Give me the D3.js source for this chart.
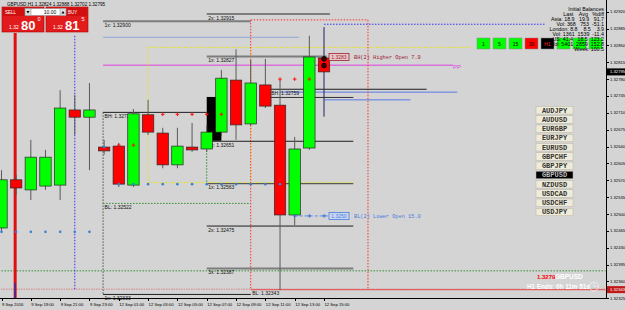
<!DOCTYPE html>
<html>
<head>
<meta charset="utf-8">
<script src="https://cdn.jsdelivr.net/npm/d3@7"></script>
<style>
body { margin: 0; background: #d4d4d4; }
svg { display: block; }
</style>
</head>
<body>
<script>
//Width and height
var w = 625;
var h = 310;
var plotRight = 606;
var plotBottom = 298;

// GBPUSD H1 bars, 9 Sep 17:00 .. 12 Sep 15:00
var barTimes = ["9 Sep 17:00", "9 Sep 18:00", "9 Sep 19:00", "9 Sep 20:00", "9 Sep 21:00", "9 Sep 22:00", "9 Sep 23:00",
                "12 Sep 00:00", "12 Sep 01:00", "12 Sep 02:00", "12 Sep 03:00", "12 Sep 04:00", "12 Sep 05:00", "12 Sep 06:00",
                "12 Sep 07:00", "12 Sep 08:00", "12 Sep 09:00", "12 Sep 10:00", "12 Sep 11:00", "12 Sep 12:00", "12 Sep 13:00",
                "12 Sep 14:00", "12 Sep 15:00"];
var opens  = [1.32471, 1.32571, 1.32550, 1.32558, 1.32560, 1.32716, 1.32701, 1.32639, 1.32641, 1.32560, 1.32706, 1.32668,
              1.32602, 1.32639, 1.32635, 1.32670, 1.32778, 1.32687, 1.32768, 1.32726, 1.32498, 1.32637, 1.32824];
var highs  = [1.32591, 1.32581, 1.32654, 1.32633, 1.32757, 1.32747, 1.32772, 1.32654, 1.32647, 1.32718, 1.32737, 1.32679,
              1.32679, 1.32689, 1.32685, 1.32799, 1.32842, 1.32820, 1.32822, 1.32778, 1.32660, 1.32870, 1.32888];
var lows   = [1.32461, 1.32539, 1.32529, 1.32550, 1.32529, 1.32664, 1.32591, 1.32623, 1.32556, 1.32556, 1.32664, 1.32595,
              1.32595, 1.32629, 1.32629, 1.32662, 1.32654, 1.32683, 1.32720, 1.32342, 1.32477, 1.32633, 1.32702];
var closes = [1.32571, 1.32554, 1.32618, 1.32618, 1.32720, 1.32701, 1.32716, 1.32631, 1.32562, 1.32708, 1.32670, 1.32602,
              1.32641, 1.32633, 1.32670, 1.32782, 1.32685, 1.32772, 1.32724, 1.32498, 1.32635, 1.32826, 1.32795];

var xTickBars   = [0, 2, 4, 6, 8, 10, 12, 14, 16, 18, 20, 22];
var xTickLabels = ["9 Sep 2016", "9 Sep 19:00", "9 Sep 21:00", "9 Sep 23:00", "12 Sep 01:00", "12 Sep 03:00",
                   "12 Sep 05:00", "12 Sep 07:00", "12 Sep 09:00", "12 Sep 11:00", "12 Sep 13:00", "12 Sep 15:00"];
var yTickValues = [1.32325, 1.32360, 1.32395, 1.32430, 1.32465, 1.32500, 1.32535, 1.32570, 1.32605, 1.32640,
                   1.32675, 1.32710, 1.32745, 1.32780, 1.32815, 1.32850, 1.32885, 1.32920];

// labelled range levels: price, first bar, last bar, text, kind
var levelPrices = [1.32915, 1.32900, 1.32827, 1.32711, 1.32759, 1.32651, 1.32563, 1.32522, 1.32475, 1.32387, 1.32343, 1.32333];
var levelFrom   = [14, 6.93, 14, 6.93, 18.3, 14, 14, 6.93, 14, 14, 17, 6.93];
var levelTo     = [22.4, 17, 22.2, 14, 29, 24, 24, 17, 24, 24, 41.2, 17];
var levelText   = ["2x: 1.32915", "1x: 1.32900", "1x: 1.32827", "BH: 1.32711", "BH: 1.32759", "1x: 1.32651",
                   "1x: 1.32563", "BL: 1.32522", "2x: 1.32475", "3x: 1.32387", "BL: 1.32343", "1x: 1.32333"];
var levelKind   = ["thick", "thick", "thick", "black", "black", "black", "gray", "greenDot", "black", "thick", "red", "black"];

// other horizontal lines
var hPrices = [1.32903, 1.32894, 1.32867, 1.32846, 1.32809, 1.32753, 1.32742, 1.32737, 1.32565, 1.32382, 1.32344];
var hFrom   = [17, 22, 6.93, 10, 6.93, 19, 18.3, 22, 10, -0.2, -0.2];
var hTo     = [25, 37.1, 20.3, 32, 30.8, 31.1, 24, 27.9, 24, 41.2, 41.2];
var hKind   = ["redDot", "blueDot", "lightBlue", "yellowDot", "magenta", "blue", "dark", "blue", "yellowDot", "greenDot", "pinkDot"];

// vertical lines: bar, top price, bottom price, kind
var vBars   = [5, 6.93, 10, 14, 17, 17, 25];
var vTop    = [1.32870, 1.32711, 1.32846, 1.32651, 1.32846, 1.32903, 1.32903];
var vBottom = [1.32344, 1.32333, 1.32565, 1.32563, 1.32565, 1.32344, 1.32344];
var vKind   = ["blueDot", "darkDot", "yellowDot", "greenDot", "yellowDot", "redDot", "redDot"];

// indicator markers
var redMarkBars   = [8, 9, 11, 12, 13, 14, 15, 19, 20, 21];
var redMarkPrices = [1.32643, 1.32643, 1.32707, 1.32707, 1.32707, 1.32707, 1.32707, 1.32780, 1.32780, 1.32780];
var blueMarkBars   = [0, 1, 2, 3, 4, 5, 6, 7, 8, 9, 10, 11, 12, 13, 14, 15, 16, 17, 18, 19];
var blueMarkPrices = [1.32463, 1.32463, 1.32463, 1.32463, 1.32463, 1.32463, 1.32463, 1.32639,
                      1.32562, 1.32562, 1.32562, 1.32562, 1.32562, 1.32562, 1.32562, 1.32562, 1.32562, 1.32562, 1.32562, 1.32562];
var lowerOpenBars = [20, 21, 22];
var lowerOpenPrice = 1.32496;
var higherOpenPrice = 1.32826;

var currencies = ["AUDJPY", "AUDUSD", "EURGBP", "EURJPY", "EURUSD", "GBPCHF", "GBPJPY", "GBPUSD", "NZDUSD", "USDCAD", "USDCHF", "USDJPY"];
var tfLabels = ["1", "5", "15", "30", "H1", "", "", ""];
var tfState  = ["up", "up", "up", "down", "cur", "up", "up", "up"];
var balanceRows = ["Initial Balances", "Last    Avg   %diff", "Asia: 18.9   19.9   91.7", "Vol: 368   753  -51.1",
                   "London: 8.8    8.5    3.9", "Vol: 1361  1539  -11.4", "US: 41.4   18.5  123.2",
                   "Vol: 5401  2859  152.8", "Week: 100.5"];

var xScale = d3.scaleLinear().domain([0, 22]).range([1.5, 324]);
var yScale = d3.scaleLinear().domain([1.32325, 1.32920]).range([298.3, 11.7]);
var half = 5.7;

var svg = d3.select("body").append("svg").attr("width", w).attr("height", h);
svg.append("rect").attr("width", w).attr("height", h).attr("fill", "#d4d4d4");

var lineStyle = {
	thick:     { stroke: "#7d7d7d", width: 2,   dash: null },
	black:     { stroke: "#1e1e1e", width: 1,   dash: null },
	gray:      { stroke: "#5a5a5a", width: 1.2, dash: null },
	red:       { stroke: "#e06060", width: 1.2, dash: null },
	greenDot:  { stroke: "#2e8b2e", width: 1,   dash: "1.5,1.5" },
	redDot:    { stroke: "#ff3030", width: 1,   dash: "1.5,1.5" },
	blueDot:   { stroke: "#3030ff", width: 1,   dash: "1.5,1.5" },
	yellowDot: { stroke: "#e8e800", width: 1,   dash: "1.5,1.5" },
	pinkDot:   { stroke: "#d88080", width: 1,   dash: "1.5,1" },
	darkDot:   { stroke: "#3a5a3a", width: 1,   dash: "1.5,1.5" },
	lightBlue: { stroke: "#8fa8d8", width: 1.2, dash: null },
	magenta:   { stroke: "#e040e0", width: 1,   dash: null },
	blue:      { stroke: "#5a78e8", width: 1,   dash: null },
	dark:      { stroke: "#303030", width: 1,   dash: null }
};

// black box between 07:00 and 08:00
svg.append("rect")
	.attr("x", xScale(14)).attr("y", yScale(1.32743))
	.attr("width", xScale(15) - xScale(14))
	.attr("height", yScale(1.32652) - yScale(1.32743))
	.attr("fill", "#000");

// horizontal lines
svg.selectAll("line.h")
	.data(hPrices)
	.enter()
	.append("line")
	.attr("class", "h")
	.attr("x1", function(d, i) { return xScale(hFrom[i]); })
	.attr("x2", function(d, i) { return Math.min(xScale(hTo[i]), plotRight); })
	.attr("y1", function(d) { return yScale(d); })
	.attr("y2", function(d) { return yScale(d); })
	.attr("stroke", function(d, i) { return lineStyle[hKind[i]].stroke; })
	.attr("stroke-width", function(d, i) { return lineStyle[hKind[i]].width; })
	.attr("stroke-dasharray", function(d, i) { return lineStyle[hKind[i]].dash; });

// vertical lines
svg.selectAll("line.v")
	.data(vBars)
	.enter()
	.append("line")
	.attr("class", "v")
	.attr("x1", function(d) { return xScale(d); })
	.attr("x2", function(d) { return xScale(d); })
	.attr("y1", function(d, i) { return yScale(vTop[i]); })
	.attr("y2", function(d, i) { return yScale(vBottom[i]); })
	.attr("stroke", function(d, i) { return lineStyle[vKind[i]].stroke; })
	.attr("stroke-width", function(d, i) { return lineStyle[vKind[i]].width; })
	.attr("stroke-dasharray", function(d, i) { return lineStyle[vKind[i]].dash; });

// session line
svg.append("line")
	.attr("x1", xScale(1) - 1).attr("x2", xScale(1) - 1)
	.attr("y1", 33).attr("y2", plotBottom)
	.attr("stroke", "#e01010").attr("stroke-width", 3);
svg.append("line")
	.attr("x1", xScale(1) - 1).attr("x2", xScale(1) - 1)
	.attr("y1", 283).attr("y2", plotBottom)
	.attr("stroke", "#3030a0").attr("stroke-width", 1.5);

// level lines + labels
svg.selectAll("line.lvl")
	.data(levelPrices)
	.enter()
	.append("line")
	.attr("class", "lvl")
	.attr("x1", function(d, i) { return xScale(levelFrom[i]); })
	.attr("x2", function(d, i) { return Math.min(xScale(levelTo[i]), plotRight); })
	.attr("y1", function(d) { return yScale(d); })
	.attr("y2", function(d) { return yScale(d); })
	.attr("stroke", function(d, i) { return lineStyle[levelKind[i]].stroke; })
	.attr("stroke-width", function(d, i) { return lineStyle[levelKind[i]].width; })
	.attr("stroke-dasharray", function(d, i) { return lineStyle[levelKind[i]].dash; });

svg.selectAll("text.lvl")
	.data(levelPrices)
	.enter()
	.append("text")
	.attr("class", "lvl")
	.text(function(d, i) { return levelText[i]; })
	.attr("x", function(d, i) { return xScale(levelFrom[i]) + 1.5; })
	.attr("y", function(d) { return yScale(d) + 5.5; })
	.attr("font-family", "Liberation Sans, Arial, sans-serif")
	.attr("font-size", "5px")
	.attr("fill", "#111");

svg.append("text").text("PP")
	.attr("x", xScale(30.8)).attr("y", yScale(1.32809) + 4)
	.attr("font-family", "Liberation Sans, sans-serif").attr("font-size", "6px")
	.attr("fill", "#e040e0");

// candles: wicks then bodies
svg.selectAll("line.wick")
	.data(opens)
	.enter()
	.append("line")
	.attr("class", "wick")
	.attr("x1", function(d, i) { return xScale(i); })
	.attr("x2", function(d, i) { return xScale(i); })
	.attr("y1", function(d, i) { return yScale(highs[i]); })
	.attr("y2", function(d, i) { return yScale(lows[i]); })
	.attr("stroke", function(d, i) { return i == 22 ? "#202060" : "#5a5a5a"; })
	.attr("stroke-width", 1);

svg.selectAll("rect.body")
	.data(opens)
	.enter()
	.append("rect")
	.attr("class", "body")
	.attr("x", function(d, i) { return xScale(i) - half; })
	.attr("y", function(d, i) { return yScale(Math.max(d, closes[i])); })
	.attr("width", half * 2)
	.attr("height", function(d, i) { return Math.max(1.5, Math.abs(yScale(d) - yScale(closes[i]))); })
	.attr("fill", function(d, i) { return closes[i] >= d ? "#00ff00" : "#ff0000"; })
	.attr("stroke", "#2a2a2a")
	.attr("stroke-width", 0.7);

// current bar dots
svg.selectAll("circle.cur")
	.data([1.32822, 1.32808])
	.enter()
	.append("circle")
	.attr("cx", xScale(22)).attr("cy", function(d) { return yScale(d); })
	.attr("r", 2.3).attr("fill", "#400000").attr("stroke", "#000");

// markers
svg.selectAll("g.redMark")
	.data(redMarkBars)
	.enter()
	.append("path")
	.attr("d", function(d, i) {
		var cx = xScale(d), cy = yScale(redMarkPrices[i]);
		return "M" + (cx - 1.8) + "," + cy + "H" + (cx + 1.8) + "M" + cx + "," + (cy - 1.8) + "V" + (cy + 1.8);
	})
	.attr("stroke", "#ff1010").attr("stroke-width", 1);

svg.selectAll("circle.blueMark")
	.data(blueMarkBars)
	.enter()
	.append("circle")
	.attr("cx", function(d) { return xScale(d); })
	.attr("cy", function(d, i) { return yScale(blueMarkPrices[i]); })
	.attr("r", 1.3)
	.attr("fill", "#3a80d8");

// lower open dash + markers
svg.append("line")
	.attr("x1", xScale(20)).attr("x2", xScale(22) + 4)
	.attr("y1", yScale(lowerOpenPrice)).attr("y2", yScale(lowerOpenPrice))
	.attr("stroke", "#5a8ae8").attr("stroke-dasharray", "3,2");
svg.selectAll("path.lo")
	.data(lowerOpenBars)
	.enter()
	.append("path")
	.attr("d", function(d) {
		var cx = xScale(d), cy = yScale(lowerOpenPrice);
		return "M" + (cx - 1.8) + "," + cy + "H" + (cx + 1.8) + "M" + cx + "," + (cy - 1.8) + "V" + (cy + 1.8);
	})
	.attr("stroke", "#3a70e0").attr("stroke-width", 1);

// open labels
function openTag(price, txt, msg, col, fill) {
	var yy = yScale(price);
	svg.append("rect").attr("x", 329).attr("y", yy - 3.5).attr("width", 20).attr("height", 7)
		.attr("fill", fill).attr("stroke", col).attr("stroke-width", 0.8);
	svg.append("text").text(txt).attr("x", 339).attr("y", yy + 2)
		.attr("text-anchor", "middle").attr("font-family", "Liberation Sans, sans-serif")
		.attr("font-size", "5px").attr("fill", col);
	svg.append("text").text(msg).attr("x", 354).attr("y", yy + 2)
		.attr("font-family", "Liberation Mono, DejaVu Sans Mono, monospace")
		.attr("font-size", "5.3px").attr("fill", col);
}
openTag(higherOpenPrice, "1.3283", "BH(2) Higher Open 7.9", "#a02030", "#e8c8c8");
openTag(lowerOpenPrice, "1.3250", "BL(2) Lower Open 15.0", "#4a7ae0", "#c8d8f0");

// frame
svg.append("line").attr("x1", plotRight + 0.5).attr("x2", plotRight + 0.5).attr("y1", 0).attr("y2", plotBottom + 0.5)
	.attr("stroke", "#000");
svg.append("line").attr("x1", 0).attr("x2", plotRight + 0.5).attr("y1", plotBottom + 0.5).attr("y2", plotBottom + 0.5)
	.attr("stroke", "#000");

// y axis
var yAxis = svg.append("g");
yAxis.selectAll("line")
	.data(yTickValues)
	.enter()
	.append("line")
	.attr("x1", plotRight).attr("x2", plotRight + 3)
	.attr("y1", function(d) { return Math.round(yScale(d)) + 0.5; })
	.attr("y2", function(d) { return Math.round(yScale(d)) + 0.5; })
	.attr("stroke", "#000");
yAxis.selectAll("text")
	.data(yTickValues)
	.enter()
	.append("text")
	.text(function(d) { return d3.format(".5f")(d); })
	.attr("x", plotRight + 4)
	.attr("y", function(d) { return yScale(d) + 1.5; })
	.attr("font-family", "Liberation Sans, Arial, sans-serif")
	.attr("font-size", "4.2px")
	.attr("fill", "#000");

function priceTag(price, bg) {
	var yy = yScale(price);
	svg.append("rect").attr("x", plotRight + 1).attr("y", yy - 3.5).attr("width", 19).attr("height", 7).attr("fill", bg);
	svg.append("text").text(d3.format(".5f")(price)).attr("x", plotRight + 4).attr("y", yy + 1.5)
		.attr("font-family", "Liberation Sans, Arial, sans-serif").attr("font-size", "4.2px").attr("fill", "#fff");
}
priceTag(closes[22], "#000");
priceTag(1.32343, "#c01818");

// x axis
svg.selectAll("line.xt")
	.data(xTickBars)
	.enter()
	.append("line")
	.attr("x1", function(d) { return Math.round(xScale(d)) + 0.5; })
	.attr("x2", function(d) { return Math.round(xScale(d)) + 0.5; })
	.attr("y1", plotBottom).attr("y2", plotBottom + 3)
	.attr("stroke", "#000");
svg.selectAll("text.xt")
	.data(xTickBars)
	.enter()
	.append("text")
	.text(function(d, i) { return xTickLabels[i]; })
	.attr("x", function(d) { return xScale(d) + 0.5; })
	.attr("y", plotBottom + 8)
	.attr("font-family", "Liberation Sans, Arial, sans-serif")
	.attr("font-size", "4.2px")
	.attr("fill", "#000");

// chart title
svg.append("text").text("GBPUSD,H1  1.32824 1.32888 1.32702 1.32795")
	.attr("x", 7).attr("y", 5.5)
	.attr("font-family", "Liberation Sans, Arial, sans-serif").attr("font-size", "4.6px").attr("fill", "#000");

// trade panel
var panel = svg.append("g");
[{x: 2, label: "SELL", big: "80", sup: "0"}, {x: 46, label: "BUY", big: "81", sup: "5"}].forEach(function(p, k) {
	panel.append("rect").attr("x", p.x).attr("y", 7).attr("width", 42).attr("height", 25)
		.attr("fill", "#e21c1c").attr("stroke", "#a00").attr("stroke-width", 0.6);
	panel.append("rect").attr("x", p.x + 1).attr("y", 8).attr("width", 40).attr("height", 8).attr("fill", "#d01010");
	panel.append("text").text(p.label).attr("x", k == 0 ? p.x + 3 : p.x + 22).attr("y", 13.5)
		.attr("font-family", "Liberation Sans, sans-serif").attr("font-size", "4.5px").attr("fill", "#fff");
	panel.append("text").text("1.32").attr("x", p.x + 7).attr("y", 29)
		.attr("font-family", "Liberation Sans, sans-serif").attr("font-size", "5px").attr("fill", "#fff");
	panel.append("text").text(p.big).attr("x", p.x + 19).attr("y", 30)
		.attr("font-family", "Liberation Sans, sans-serif").attr("font-size", "13px").attr("font-weight", "bold").attr("fill", "#fff");
	panel.append("text").text(p.sup).attr("x", p.x + 35.5).attr("y", 21)
		.attr("font-family", "Liberation Sans, sans-serif").attr("font-size", "5.5px").attr("fill", "#fff");
});
panel.append("rect").attr("x", 25).attr("y", 8.5).attr("width", 41).attr("height", 7).attr("fill", "#fff").attr("stroke", "#888").attr("stroke-width", 0.5);
panel.append("rect").attr("x", 25).attr("y", 8.5).attr("width", 6).attr("height", 7).attr("fill", "#ddd").attr("stroke", "#888").attr("stroke-width", 0.5);
panel.append("rect").attr("x", 60).attr("y", 8.5).attr("width", 6).attr("height", 7).attr("fill", "#ddd").attr("stroke", "#888").attr("stroke-width", 0.5);
panel.append("path").attr("d", "M26.5,11 L29.5,11 L28,13.5 Z").attr("fill", "#000");
panel.append("path").attr("d", "M61.5,13.5 L64.5,13.5 L63,11 Z").attr("fill", "#000");
panel.append("text").text("10.00").attr("x", 50).attr("y", 14).attr("text-anchor", "middle")
	.attr("font-family", "Liberation Sans, sans-serif").attr("font-size", "5px").attr("fill", "#000");

// timeframe boxes
svg.selectAll("rect.tf")
	.data(tfLabels)
	.enter()
	.append("rect")
	.attr("x", function(d, i) { return 477 + i * 16; })
	.attr("y", 38).attr("width", 13).attr("height", 11)
	.attr("fill", function(d, i) { return tfState[i] == "up" ? "#00ff00" : (tfState[i] == "down" ? "#ff0000" : "#000"); })
	.attr("stroke", "#888").attr("stroke-width", 0.5);
svg.selectAll("text.tf")
	.data(tfLabels)
	.enter()
	.append("text")
	.text(function(d) { return d; })
	.attr("x", function(d, i) { return 483.5 + i * 16; })
	.attr("y", 45.5).attr("text-anchor", "middle")
	.attr("font-family", "Liberation Sans, sans-serif").attr("font-size", "5px")
	.attr("fill", function(d, i) { return tfState[i] == "cur" ? "#ff2020" : "#000"; });

// initial balances
svg.selectAll("text.ib")
	.data(balanceRows)
	.enter()
	.append("text")
	.text(function(d) { return d; })
	.attr("x", 604)
	.attr("y", function(d, i) { return 11 + i * 5; })
	.attr("text-anchor", "end")
	.attr("xml:space", "preserve")
	.attr("font-family", "Liberation Sans, Arial, sans-serif")
	.attr("font-size", "5.3px")
	.attr("fill", "#000");

// symbol buttons
svg.selectAll("rect.sym")
	.data(currencies)
	.enter()
	.append("rect")
	.attr("x", 536).attr("y", function(d, i) { return 106.5 + i * 9.25; })
	.attr("width", 37).attr("height", 7.5)
	.attr("fill", function(d) { return d == "GBPUSD" ? "#000" : "#efebd9"; })
	.attr("stroke", "#b8b4a4").attr("stroke-width", 0.5);
svg.selectAll("text.sym")
	.data(currencies)
	.enter()
	.append("text")
	.text(function(d) { return d; })
	.attr("x", 554.5).attr("y", function(d, i) { return 112.6 + i * 9.25; })
	.attr("text-anchor", "middle")
	.attr("font-family", "Liberation Mono, DejaVu Sans Mono, monospace")
	.attr("font-size", "7px").attr("font-weight", "bold")
	.attr("fill", function(d) { return d == "GBPUSD" ? "#bbb" : "#333"; });

// bottom right info
svg.append("text").text("1.3279").attr("x", 537).attr("y", 278.5)
	.attr("font-family", "Liberation Sans, sans-serif").attr("font-size", "6px").attr("font-weight", "bold").attr("fill", "#ff0000");
svg.append("text").text("GBPUSD").attr("x", 555).attr("y", 278.5)
	.attr("font-family", "Liberation Sans, sans-serif").attr("font-size", "6.5px").attr("font-weight", "bold").attr("fill", "#fff");
svg.append("text").text("H1 Ends: 0h 11m 51s").attr("x", 527).attr("y", 288.5)
	.attr("font-family", "Liberation Sans, sans-serif").attr("font-size", "6.3px").attr("font-weight", "bold").attr("fill", "#fff");
svg.append("circle").attr("cx", 594).attr("cy", 286.5).attr("r", 4.5)
	.attr("fill", "none").attr("stroke", "#f4f4f4").attr("stroke-width", 0.8);
svg.append("path").attr("d", "M594,283.5 V286.5 H596.5").attr("fill", "none").attr("stroke", "#f4f4f4").attr("stroke-width", 0.7);
</script>
</body>
</html>
